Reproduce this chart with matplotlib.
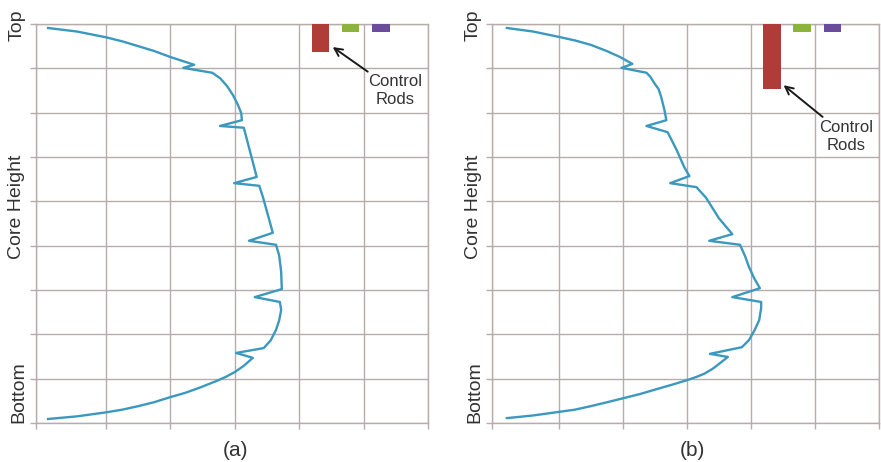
import matplotlib
matplotlib.use("Agg")
import matplotlib.pyplot as plt

plt.rcParams['font.family'] = ['Liberation Sans', 'DejaVu Sans']

# Axial power profile, panel (a): relative power (x) vs core height (y, 0 = bottom, 9 = top)
power_a = [0.10, 0.55, 1.00, 1.25, 1.50, 1.75, 1.99, 2.37, 2.20, 2.65,
           2.77, 2.88, 2.97, 3.05, 3.10, 3.11, 2.77, 3.14, 3.34, 2.99,
           3.38, 3.44, 3.59, 3.22, 3.64, 3.69, 3.72, 3.73, 3.31, 3.70,
           3.72, 3.69, 3.64, 3.56, 3.45, 3.02, 3.28, 3.14, 3.00, 2.86,
           2.72, 2.46, 2.23, 1.99, 1.75, 1.50, 1.25, 1.00, 0.55, 0.10]
height_a = [8.91, 8.83, 8.70, 8.61, 8.50, 8.39, 8.26, 8.08, 8.01, 7.90,
            7.78, 7.60, 7.40, 7.17, 6.99, 6.83, 6.70, 6.66, 5.55, 5.41,
            5.35, 5.08, 4.29, 4.11, 4.02, 3.77, 3.41, 3.02, 2.84, 2.73,
            2.55, 2.32, 2.10, 1.87, 1.69, 1.58, 1.47, 1.29, 1.15, 1.04,
            0.95, 0.80, 0.68, 0.58, 0.47, 0.38, 0.30, 0.24, 0.15, 0.09]

# Axial power profile, panel (b)
power_b = [0.19, 0.60, 1.00, 1.25, 1.50, 1.75, 1.95, 2.15, 1.98, 2.37,
           2.43, 2.49, 2.56, 2.60, 2.65, 2.68, 2.37, 2.70, 2.84, 2.96,
           3.04, 2.74, 3.15, 3.30, 3.50, 3.71, 3.35, 3.83, 3.91, 3.97,
           4.05, 4.14, 3.71, 4.16, 4.16, 4.13, 4.06, 3.97, 3.86, 3.36,
           3.64, 3.50, 3.40, 3.27, 3.15, 3.01, 2.76, 2.52, 2.26, 2.01,
           1.76, 1.50, 1.25, 1.00, 0.60, 0.19]
height_b = [8.91, 8.83, 8.71, 8.63, 8.53, 8.39, 8.26, 8.10, 8.01, 7.90,
            7.81, 7.67, 7.53, 7.35, 7.06, 6.83, 6.70, 6.56, 6.16, 5.77,
            5.57, 5.41, 5.32, 5.08, 4.62, 4.26, 4.11, 4.02, 3.76, 3.52,
            3.27, 3.04, 2.84, 2.73, 2.59, 2.32, 2.10, 1.87, 1.71, 1.56,
            1.49, 1.33, 1.22, 1.11, 1.04, 0.97, 0.86, 0.76, 0.65, 0.56,
            0.47, 0.38, 0.30, 0.25, 0.17, 0.11]

# Control rod banks: horizontal positions and insertion depth from the top
rod_positions = [4.33, 4.80, 5.27]
rod_depth_a = [0.63, 0.18, 0.18]
rod_depth_b = [1.47, 0.18, 0.18]
rod_colors = ['#b03c3a', '#8cb43c', '#6b4c9c']

panel_labels = ['(a)', '(b)']
height_labels = ['Top', 'Core Height', 'Bottom']

W, H = 881, 462
fig = plt.figure(figsize=(W / 100, H / 100), dpi=100)

grid_color = '#b6acaa'
line_color = '#3b98bf'
text_color = '#333333'
core_top = 9

panels = [
    dict(left=36, right=428, xmin=-0.087, power=power_a, height=height_a,
         depth=rod_depth_a, tip=(4.52, 8.48), txt=(5.49, 7.49), label_x=17, sub_x=235),
    dict(left=492, right=879, xmin=-0.042, power=power_b, height=height_b,
         depth=rod_depth_b, tip=(4.51, 7.62), txt=(5.49, 6.47), label_x=473, sub_x=692),
]
top_px, bot_px = 24, 423

for p, lab in zip(panels, panel_labels):
    ax = fig.add_axes([p['left'] / W, 1 - bot_px / H,
                       (p['right'] - p['left']) / W, (bot_px - top_px) / H])
    ax.set_xlim(p['xmin'], 6)
    ax.set_ylim(0, core_top)
    ax.set_xticks([p['xmin'], 1, 2, 3, 4, 5, 6])
    ax.set_yticks(range(0, core_top + 1))
    ax.set_xticklabels([])
    ax.set_yticklabels([])
    ax.tick_params(length=4, width=1, color=grid_color, direction='out')
    ax.grid(True, color=grid_color, linewidth=1)
    ax.set_axisbelow(True)
    for s in ax.spines.values():
        s.set_color(grid_color)
        s.set_linewidth(1)

    ax.plot(p['power'], p['height'], color=line_color, linewidth=1.7,
            solid_joinstyle='round', zorder=3)

    ax.bar(rod_positions, p['depth'], width=0.27,
           bottom=[core_top - d for d in p['depth']], color=rod_colors, zorder=3)

    ax.annotate('Control\nRods', xy=p['tip'], xytext=p['txt'],
                ha='center', va='center', fontsize=12, color=text_color,
                linespacing=1.25,
                arrowprops=dict(arrowstyle='->', color='#1a1a1a', lw=1.4,
                                shrinkA=0, shrinkB=0, mutation_scale=14))

    fig.text(p['label_x'] / W, 1 - 25 / H, height_labels[0], rotation=90,
             ha='center', va='center', fontsize=14, color=text_color)
    fig.text(p['label_x'] / W, 1 - 207 / H, height_labels[1], rotation=90,
             ha='center', va='center', fontsize=14, color=text_color)
    fig.text((p['label_x'] + 2) / W, 1 - 392 / H, height_labels[2], rotation=90,
             ha='center', va='center', fontsize=14, color=text_color)
    fig.text(p['sub_x'] / W, 1 - 450 / H, lab, ha='center', va='center',
             fontsize=15, color=text_color)

fig.savefig('out.png', dpi=100)
